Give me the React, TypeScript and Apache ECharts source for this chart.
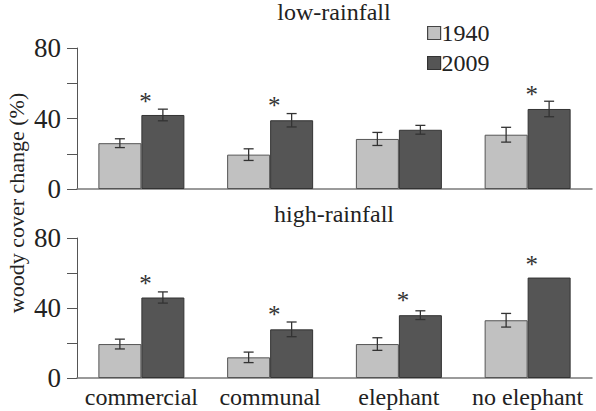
import React, { useEffect, useRef } from "react";
import * as echarts from "echarts";

const categories = ["commercial", "communal", "elephant", "no elephant"];
const years = ["1940", "2009"];
const panelTitles = ["low-rainfall", "high-rainfall"];
const yAxisTitle = "woody cover change (%)";
const yTickLabels = [0, 40, 80];

const low1940 = [26, 19.5, 28.4, 30.8];
const low1940Err = [2.5, 3.3, 3.7, 4.2];
const low2009 = [42, 39, 33.6, 45.4];
const low2009Err = [3.3, 3.8, 2.5, 4.4];
const lowStars = [51.6, 48.8, null, 55.6];

const high1940 = [19.4, 11.8, 19.4, 33];
const high1940Err = [2.8, 3, 3.6, 3.9];
const high2009 = [46, 27.8, 35.9, 57.4];
const high2009Err = [3.2, 4.2, 2.5, 0];
const highStars = [55.9, 38.2, 45.8, 66.7];

const FONT = "'Liberation Serif', 'Times New Roman', serif";
const LIGHT = "#c1c1c1";
const DARK = "#555555";
const BAR_W = 43;

function errData(v1940: number[], e1940: number[], v2009: number[], e2009: number[]) {
  const out: number[][] = [];
  v1940.forEach((v, i) => out.push([i, v, e1940[i], -1]));
  v2009.forEach((v, i) => out.push([i, v, e2009[i], 1]));
  return out;
}

function starData(stars: (number | null)[]) {
  const out: number[][] = [];
  stars.forEach((s, i) => {
    if (s != null) out.push([i, s]);
  });
  return out;
}

const renderErr = (params: any, api: any) => {
  const cat = api.value(0);
  const mean = api.value(1);
  const err = api.value(2);
  const side = api.value(3);
  if (!err) return null;
  const c = api.coord([cat, mean]);
  const x = c[0] + side * (BAR_W / 2);
  const yt = api.coord([cat, mean + err])[1];
  const yb = api.coord([cat, mean - err])[1];
  const st = { stroke: "#333", lineWidth: 1.3 };
  return {
    type: "group",
    children: [
      { type: "line", shape: { x1: x, y1: yt, x2: x, y2: yb }, style: st },
      { type: "line", shape: { x1: x - 5, y1: yt, x2: x + 5, y2: yt }, style: st },
      { type: "line", shape: { x1: x - 5, y1: yb, x2: x + 5, y2: yb }, style: st },
    ],
  };
};

const renderStar = (params: any, api: any) => {
  const c = api.coord([api.value(0), api.value(1)]);
  return {
    type: "text",
    x: c[0] + 4,
    y: c[1] + 3,
    style: {
      text: "*",
      fontFamily: FONT,
      fontSize: 25,
      fill: "#333",
      align: "center",
      verticalAlign: "middle",
    },
  };
};

export default function App() {
  const ref = useRef<HTMLDivElement>(null);
  useEffect(() => {
    document.body.style.margin = "0";
    if (!ref.current) return;
    const chart = echarts.init(ref.current, null, { renderer: "svg" });
    const axisLine = { show: true, lineStyle: { color: "#7a7a7a", width: 1.5 } };
    const yAxisBase = (gi: number) => ({
      type: "value",
      gridIndex: gi,
      min: 0,
      max: 80,
      interval: 20,
      axisLine: { show: true, lineStyle: { color: "#555", width: 1 } },
      axisTick: { show: true, length: 10, lineStyle: { color: "#555", width: 1 } },
      splitLine: { show: false },
      axisLabel: {
        margin: 16,
        fontFamily: FONT,
        fontSize: 27,
        color: "#222",
        formatter: (v: number) => (yTickLabels.includes(v) ? String(v) : ""),
      },
    });
    const barStyle = (color: string, border: string) => ({
      color,
      borderColor: border,
      borderWidth: 1,
    });
    chart.setOption({
      animation: false,
      backgroundColor: "#fff",
      textStyle: { fontFamily: FONT },
      grid: [
        { left: 77, right: 4, top: 48, height: 141 },
        { left: 77, right: 4, top: 238, height: 140 },
      ],
      legend: {
        data: [
          { name: years[0], itemStyle: { color: LIGHT, borderColor: "#444", borderWidth: 1.2 } },
          { name: years[1], itemStyle: { color: DARK, borderColor: "#333", borderWidth: 1.2 } },
        ],
        orient: "vertical",
        left: 422,
        top: 16,
        icon: "rect",
        itemWidth: 13,
        itemHeight: 13,
        itemGap: 6,
        textStyle: { fontFamily: FONT, fontSize: 24, color: "#222", lineHeight: 24, padding: [0, 0, 0, -4] },
      },
      xAxis: [
        {
          type: "category",
          gridIndex: 0,
          data: categories,
          axisLine,
          axisTick: { show: false },
          axisLabel: { show: false },
        },
        {
          type: "category",
          gridIndex: 1,
          data: categories,
          axisLine,
          axisTick: { show: false },
          axisLabel: { margin: 7, fontFamily: FONT, fontSize: 24, color: "#222", interval: 0 },
        },
      ],
      yAxis: [yAxisBase(0), yAxisBase(1)],
      graphic: [
        {
          type: "text",
          x: 334,
          y: 12,
          style: { text: panelTitles[0], fontFamily: FONT, fontSize: 24, fill: "#222", align: "center", verticalAlign: "middle" },
        },
        {
          type: "text",
          x: 334,
          y: 214,
          style: { text: panelTitles[1], fontFamily: FONT, fontSize: 24, fill: "#222", align: "center", verticalAlign: "middle" },
        },
        {
          type: "text",
          x: 16,
          y: 203,
          rotation: Math.PI / 2,
          style: { text: yAxisTitle, fontFamily: FONT, fontSize: 22, fill: "#222", align: "center", verticalAlign: "middle" },
        },
      ],
      series: [
        {
          name: years[0], type: "bar", xAxisIndex: 0, yAxisIndex: 0, data: low1940,
          barWidth: BAR_W, barGap: "0%", itemStyle: barStyle(LIGHT, "#555"),
        },
        {
          name: years[1], type: "bar", xAxisIndex: 0, yAxisIndex: 0, data: low2009,
          barWidth: BAR_W, barGap: "0%", itemStyle: barStyle(DARK, "#333"),
        },
        {
          name: years[0], type: "bar", xAxisIndex: 1, yAxisIndex: 1, data: high1940,
          barWidth: BAR_W, barGap: "0%", itemStyle: barStyle(LIGHT, "#555"),
        },
        {
          name: years[1], type: "bar", xAxisIndex: 1, yAxisIndex: 1, data: high2009,
          barWidth: BAR_W, barGap: "0%", itemStyle: barStyle(DARK, "#333"),
        },
        {
          type: "custom", xAxisIndex: 0, yAxisIndex: 0, clip: false, z: 5,
          data: errData(low1940, low1940Err, low2009, low2009Err),
          encode: { x: 0, y: 1 }, renderItem: renderErr,
        },
        {
          type: "custom", xAxisIndex: 1, yAxisIndex: 1, clip: false, z: 5,
          data: errData(high1940, high1940Err, high2009, high2009Err),
          encode: { x: 0, y: 1 }, renderItem: renderErr,
        },
        {
          type: "custom", xAxisIndex: 0, yAxisIndex: 0, clip: false, z: 5,
          data: starData(lowStars), encode: { x: 0, y: 1 }, renderItem: renderStar,
        },
        {
          type: "custom", xAxisIndex: 1, yAxisIndex: 1, clip: false, z: 5,
          data: starData(highStars), encode: { x: 0, y: 1 }, renderItem: renderStar,
        },
      ],
    });
    return () => chart.dispose();
  }, []);
  return (
    <div
      ref={ref}
      style={{ width: 596, height: 411, position: "fixed", left: 0, top: 0, background: "#fff" }}
    />
  );
}
